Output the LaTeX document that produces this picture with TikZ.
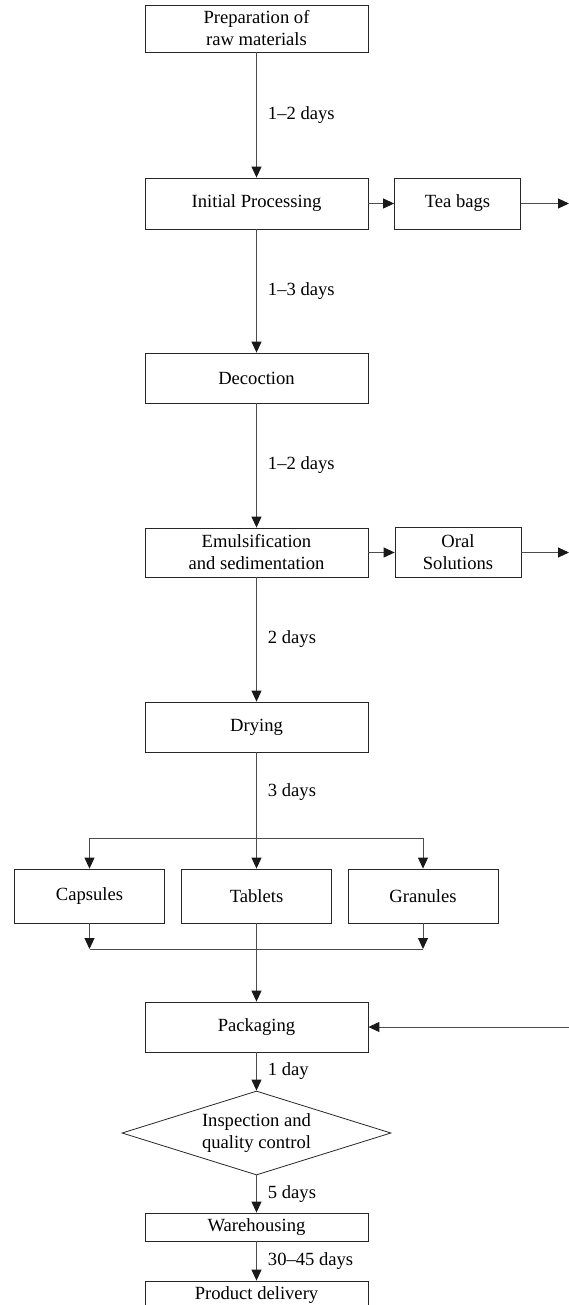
\documentclass[tikz,border=0pt]{standalone}
\usepackage{fontspec}
\setmainfont{Liberation Serif}
\usetikzlibrary{arrows.meta,shapes.geometric}
\tikzstyle{stage}=[rectangle,draw=black!85,line width=0.8pt,minimum width=223pt,inner sep=0pt,align=center]
\tikzstyle{product}=[stage,minimum width=126pt]
\tikzstyle{dosage}=[stage,minimum width=150pt,minimum height=54pt]
\tikzstyle{check}=[diamond,draw=black!85,line width=0.8pt,minimum width=269pt,minimum height=84pt,aspect=3.2,inner sep=0pt,align=center]
\tikzstyle{edge} = [draw,line width=0.9pt,black!70,-{Triangle[length=11pt,width=10pt,color=black!90]}]
\tikzstyle{plainedge} = [draw,line width=0.9pt,black!70]
\tikzstyle{duration} = [right,inner sep=0pt,xshift=11pt,text=black]

\begin{document}
\begin{tikzpicture}[x=1pt,y=-1pt,font=\fontsize{18.6}{22}\selectfont]

    \useasboundingbox (0,0) rectangle (569,1305);

    \node[stage,minimum height=47pt] (prep) at (256.5,28.5) {Preparation of\\raw materials};
    \node[stage,minimum height=51pt] (init) at (256.5,203.5) {Initial Processing};
    \node[product,minimum height=51pt] (tea) at (457.5,203.5) {Tea bags};
    \node[stage,minimum height=50pt] (dec) at (256.5,378) {Decoction};
    \node[stage,minimum height=49pt] (emul) at (256.5,552.5) {Emulsification\\and sedimentation};
    \node[product,minimum height=50pt] (oral) at (458,552.5) {Oral\\Solutions};
    \node[stage,minimum height=50pt] (dry) at (256.5,727) {Drying};

    \foreach \pos/ \name / \label in {{(89.5,896)/caps/Capsules}, {(256.5,896)/tabs/Tablets}, {(423,896)/gran/Granules}}
        \node[dosage] (\name) at \pos {\label};

    \node[stage,minimum height=50pt] (pack) at (256.5,1027) {Packaging};
    \node[check] (qc) at (256.5,1133) {Inspection and\\quality control};
    \node[stage,minimum height=28pt] (ware) at (256.5,1227) {Warehousing};
    \node[stage,minimum height=28pt] (deliv) at (256.5,1295) {Product delivery};

    \coordinate (teaout) at (569,203.5);
    \coordinate (oralout) at (569,552.5);
    \coordinate (packin) at (569,1027);
    \coordinate (split) at (256.5,838);
    \coordinate (merge) at (256.5,949);

    % main line with durations
    \foreach \source/ \dest / \time in {prep/init/1--2 days, init/dec/1--3 days, dec/emul/1--2 days, emul/dry/2 days, pack/qc/1 day, qc/ware/5 days, ware/deliv/30--45 days}
        \path[edge] (\source) -- node[duration] {\time} (\dest);
    \path[edge] (dry) -- node[duration,pos=.34] {3 days} (tabs);

    % side products
    \path[edge] (init) -- (tea);
    \path[edge] (tea) -- (teaout);
    \path[edge] (emul) -- (oral);
    \path[edge] (oral) -- (oralout);
    \path[edge] (packin) -- (pack);

    % dosage forms
    \path[edge] (split) -| (caps.north);
    \path[edge] (split) -| (gran.north);
    \path[edge] (caps.south) -- (caps.south |- merge);
    \path[edge] (gran.south) -- (gran.south |- merge);
    \path[plainedge] (caps.south |- merge) -- (gran.south |- merge);
    \path[edge] (tabs) -- (pack);

\end{tikzpicture}
\end{document}
